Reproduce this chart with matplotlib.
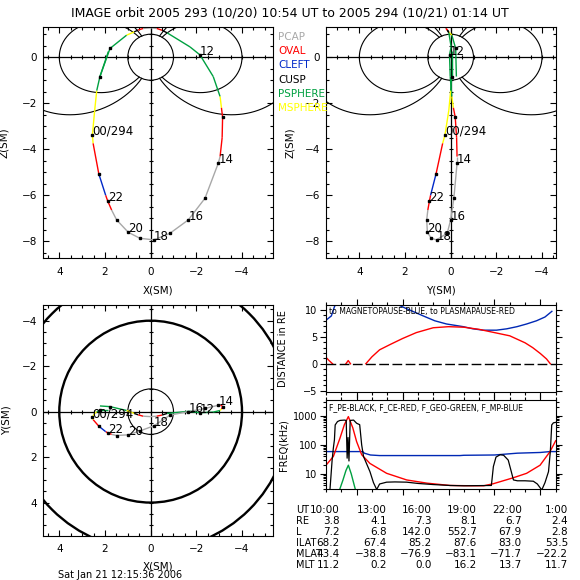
import numpy as np
import matplotlib
matplotlib.use("Agg")
import matplotlib.pyplot as plt
from matplotlib.patches import Circle
from matplotlib.ticker import MultipleLocator, LogLocator, NullFormatter, FuncFormatter

TITLE = "IMAGE orbit 2005 293 (10/20) 10:54 UT to 2005 294 (10/21) 01:14 UT"
STAMP = "Sat Jan 21 12:15:36 2006"

REGION_NAMES = ["PCAP", "OVAL", "CLEFT", "CUSP", "PSPHERE", "MSPHERE"]
REGION_COLORS = {"PCAP": "#a8a8a8", "OVAL": "#ff0000", "CLEFT": "#0028c8",
                 "CUSP": "#000000", "PSPHERE": "#00a040", "MSPHERE": "#ffff00"}

# orbit track in SM coordinates (RE); region = colour of segment leaving the point
ORBIT_X = [2.22, 1.78, 1.05, 0.72, 0.55, 0.33, 0.00, -0.27, -0.50, -0.72, -1.72, -2.16,
           -2.74, -3.04, -3.10, -3.15, -3.13, -3.04, -2.96, -2.38, -1.65, -0.85, -0.15,
           0.47, 0.98, 1.49, 1.71, 1.88, 1.97, 2.27, 2.52, 2.55, 2.45, 2.36, 2.22, 1.85]
ORBIT_Y = [-0.25, -0.22, -0.05, 0.08, 0.14, 0.20, 0.22, 0.20, 0.15, 0.08, -0.02, 0.05,
           0.02, -0.05, -0.12, -0.20, -0.26, -0.28, -0.28, -0.14, 0.00, 0.15, 0.62,
           0.85, 1.02, 1.05, 1.00, 0.93, 0.88, 0.64, 0.35, 0.25, 0.08, 0.00, -0.05, -0.05]
ORBIT_Z = [-0.84, 0.38, 0.96, 1.10, 1.18, 1.25, 1.28, 1.25, 1.17, 1.06, 0.45, 0.10,
           -0.84, -1.71, -2.20, -2.61, -3.50, -4.32, -4.61, -6.13, -7.07, -7.65, -7.94,
           -7.87, -7.61, -7.07, -6.64, -6.25, -6.00, -5.07, -3.74, -3.38, -2.30, -1.45, -0.84, 0.25]
ORBIT_REGION = ["PSPHERE", "PSPHERE", "MSPHERE", "CUSP", "OVAL", "PCAP", "PCAP", "OVAL",
                "CUSP", "PSPHERE", "PSPHERE", "PSPHERE", "PSPHERE", "MSPHERE", "OVAL", "OVAL",
                "OVAL", "PCAP", "PCAP", "PCAP", "PCAP", "PCAP", "PCAP", "PCAP", "PCAP", "PCAP",
                "OVAL", "OVAL", "CLEFT", "OVAL", "MSPHERE", "MSPHERE", "MSPHERE", "PSPHERE",
                "PSPHERE", "PSPHERE"]
ORBIT_MARK = ["", ".", "", "", "", "", "", "", "", "", "", "12",
              "", "", "", ".", "", "", "14", ".", "16", ".", "18",
              ".", "20", ".", "", "22", "", ".", "", "00/294", "", "", ".", ""]

L_SHELLS = [4.0, 6.5]
XY_CIRCLES = [1.0, 4.0, 6.1]
XY_CIRCLE_LW = [0.8, 1.7, 1.7]

# distance panel (hours of day 293, 25 = 01:00 on 294)
MP_T = [10.0, 10.35, 10.55, 10.8, 12.5, 14.5, 14.83, 15.3, 16.35, 17.1, 17.87, 18.97,
        19.6, 20.27, 21.13, 21.8, 22.47, 23.1, 23.75, 24.3, 24.75]
MP_D = [8.1, 8.9, 10.6, 12.0, 14.0, 12.0, 10.8, 10.2, 8.9, 8.0, 7.4, 6.9,
        6.5, 6.25, 6.25, 6.5, 6.9, 7.4, 8.0, 8.7, 9.75]
PP_T = [10.0, 10.2, 10.43, 10.5, 11.3, 11.45, 11.6, 11.7, 12.6, 13.0, 13.5, 14.2, 15.0,
        15.9, 17.0, 18.0, 19.0, 20.0, 21.0, 22.0, 23.0, 23.5, 24.0, 24.4, 24.65]
PP_D = [1.2, 0.6, 0.0, np.nan, 0.0, 0.6, 0.0, np.nan, 0.0, 1.3, 2.6, 3.6, 4.7,
        5.8, 6.7, 6.9, 6.8, 6.4, 5.8, 5.2, 3.9, 3.0, 1.9, 0.9, 0.0]

# frequency panel (kHz)
FPE_T = [10.15, 10.26, 10.4, 10.48, 10.55, 10.6, 10.75, 10.91, 11.2, 11.32, 11.38, 11.44,
         11.5, 11.58, 11.8, 12.0, 12.2, 12.33, 12.45, 12.87, 13.1, 13.31, 13.5, 13.96,
         14.5, 15.27, 16.0, 17.0, 18.1, 19.0, 20.8, 20.93, 21.1, 21.37, 21.6, 21.9, 22.1,
         22.24, 22.5, 23.0, 23.54, 23.8, 24.09, 24.3, 24.53, 24.65, 24.74, 24.85, 25.0]
FPE_F = [2.5, 2.9, 30, 78, 150, 490, 640, 700, 720, 700, 35, 180,
         28, 700, 720, 560, 500, 100, 40, 12, 5.0, 2.9, 4.5, 5.2,
         5.3, 5.2, 4.7, 4.3, 4.0, 3.9, 4.0, 18, 38, 46, 44, 30, 12,
         6.2, 5.8, 5.8, 5.6, 4.5, 2.8, 5.0, 12, 60, 490, 580, 600]
FCE_T = [10.0, 10.48, 10.91, 11.2, 11.46, 11.75, 12.0, 12.33, 12.87, 13.96, 15.27, 16.6,
         18.1, 19.5, 20.3, 20.93, 22.24, 23.1, 23.98, 24.63, 25.0]
FCE_F = [20, 40, 170, 500, 950, 390, 130, 46, 23, 10.5, 6.2, 4.8,
         4.0, 3.9, 3.9, 4.6, 7.4, 10.5, 20, 59, 140]
FGEO_T = [10.85, 11.1, 11.3, 11.46, 11.65, 11.8, 11.95]
FGEO_F = [2.5, 6, 13, 20, 10, 5, 2.5]
FMP_T = [10.0, 12.4, 12.5, 12.9, 13.5, 18.75, 19.0, 21.0, 22.5, 24.0, 24.63, 25.0]
FMP_F = [59, 59, 52, 45, 43, 43, 44, 45, 52, 55, 59, 59]

TABLE_ROWS = ["UT", "RE", "L", "ILAT", "MLAT", "MLT"]
TABLE_UT = ["10:00", "13:00", "16:00", "19:00", "22:00", "1:00"]
TABLE_RE = [3.8, 4.1, 7.3, 8.1, 6.7, 2.4]
TABLE_L = [7.2, 6.8, 142.0, 552.7, 67.9, 2.8]
TABLE_ILAT = [68.2, 67.4, 85.2, 87.6, 83.0, 53.5]
TABLE_MLAT = [43.4, -38.8, -76.9, -83.1, -71.7, -22.2]
TABLE_MLT = [11.2, 0.2, 0.0, 16.2, 13.7, 11.7]

W = H = 580.0
FS = 7.5


def px_box(left, top, right, bottom):
    return [left / W, 1 - bottom / H, (right - left) / W, (bottom - top) / H]


def style_orbit_axes(ax):
    for axis in (ax.xaxis, ax.yaxis):
        axis.set_major_locator(MultipleLocator(2))
        axis.set_minor_locator(MultipleLocator(0.5))
    ax.tick_params(which="both", direction="in", top=True, right=True, labelsize=FS)
    ax.tick_params(axis="x", pad=6)
    ax.tick_params(axis="y", pad=4.5)
    ax.tick_params(which="major", length=4.5, width=0.8)
    ax.tick_params(which="minor", length=2.2, width=0.8)
    ax.axhline(0, color="k", lw=0.9)
    ax.axvline(0, color="k", lw=0.9)
    xl = ax.get_xlim()
    yl = ax.get_ylim()
    xs = np.arange(np.ceil(min(xl) * 2) / 2, max(xl), 0.5)
    ys = np.arange(np.ceil(min(yl) * 2) / 2, max(yl), 0.5)
    ax.plot(xs, np.zeros_like(xs), "|", color="k", ms=3, mew=0.8)
    ax.plot(np.zeros_like(ys), ys, "_", color="k", ms=3, mew=0.8)


def draw_field_lines(ax):
    for L in L_SHELLS:
        lat_max = np.arccos(1 / np.sqrt(L))
        lat = np.linspace(-lat_max, lat_max, 400)
        r = L * np.cos(lat) ** 2
        for side in (1, -1):
            ax.plot(side * r * np.cos(lat), r * np.sin(lat), color="k", lw=0.8)


def draw_orbit(ax, h, v):
    for i in range(len(h) - 1):
        ax.plot(h[i:i + 2], v[i:i + 2], color=REGION_COLORS[ORBIT_REGION[i]], lw=1.0,
                solid_capstyle="butt")
    for i, mark in enumerate(ORBIT_MARK):
        if mark:
            ax.plot(h[i], v[i], "s", color="k", ms=1.8)
        if mark and mark != ".":
            ax.text(h[i], v[i], mark, fontsize=8.5, ha="left", va="baseline")


fig = plt.figure(figsize=(5.8, 5.8), dpi=100)

# X-Z
ax1 = fig.add_axes(px_box(43.3, 27.3, 273.3, 258.3))
ax1.set_xlim(4.7, -5.37)
ax1.set_ylim(-8.74, 1.3)
draw_field_lines(ax1)
ax1.add_patch(Circle((0, 0), 1, fill=False, color="k", lw=0.8))
style_orbit_axes(ax1)
draw_orbit(ax1, ORBIT_X, ORBIT_Z)
ax1.set_xlabel("X(SM)", fontsize=FS)
ax1.set_ylabel("Z(SM)", fontsize=FS)
ax1.xaxis.set_label_coords(0.5, -0.116)
ax1.yaxis.set_label_coords(-0.15, 0.5)

# Y-Z
ax2 = fig.add_axes(px_box(326, 27.3, 555.7, 258.3))
ax2.set_xlim(5.46, -4.6)
ax2.set_ylim(-8.74, 1.3)
draw_field_lines(ax2)
ax2.add_patch(Circle((0, 0), 1, fill=False, color="k", lw=0.8))
style_orbit_axes(ax2)
draw_orbit(ax2, ORBIT_Y, ORBIT_Z)
ax2.set_xlabel("Y(SM)", fontsize=FS)
ax2.set_ylabel("Z(SM)", fontsize=FS)
ax2.xaxis.set_label_coords(0.5, -0.116)
ax2.yaxis.set_label_coords(-0.135, 0.5)

# X-Y
ax3 = fig.add_axes(px_box(43.3, 305, 273.3, 536))
ax3.set_xlim(4.7, -5.37)
ax3.set_ylim(5.47, -4.69)
for rad, lw in zip(XY_CIRCLES, XY_CIRCLE_LW):
    ax3.add_patch(Circle((0, 0), rad, fill=False, color="k", lw=lw))
style_orbit_axes(ax3)
draw_orbit(ax3, ORBIT_X, ORBIT_Y)
ax3.set_xlabel("X(SM)", fontsize=FS)
ax3.set_ylabel("Y(SM)", fontsize=FS)
ax3.xaxis.set_label_coords(0.5, -0.11)
ax3.yaxis.set_label_coords(-0.14, 0.5)

# legend of regions
for k, name in enumerate(REGION_NAMES):
    fig.text(278 / W, 1 - (37 + 14.2 * k) / H, name, color=REGION_COLORS[name],
             fontsize=FS, ha="left", va="center")


def style_time_axes(ax):
    ax.set_xlim(10, 25)
    ax.xaxis.set_major_locator(MultipleLocator(3))
    ax.xaxis.set_minor_locator(MultipleLocator(1))
    ax.tick_params(which="both", direction="out", top=True, right=True, labelbottom=False,
                   labelsize=7, pad=2, width=0.8)
    ax.tick_params(which="major", length=4)
    ax.tick_params(which="minor", length=2)


# distances
ax4 = fig.add_axes(px_box(326, 305, 555.7, 392.3))
ax4.plot(MP_T, MP_D, color="#0028b4", lw=1.0)
ax4.plot(PP_T, PP_D, color="#ff0000", lw=1.0)
ax4.axhline(0, color="k", lw=1.0, dashes=(7, 2.5))
style_time_axes(ax4)
ax4.set_ylim(-5.3, 10.93)
ax4.yaxis.set_major_locator(MultipleLocator(5))
ax4.yaxis.set_minor_locator(MultipleLocator(1))
ax4.text(0.015, 0.93, "to MAGNETOPAUSE-BLUE, to PLASMAPAUSE-RED", transform=ax4.transAxes,
         fontsize=5.6, ha="left", va="center")
ax4.set_ylabel("DISTANCE in RE", fontsize=7)
ax4.yaxis.set_label_coords(-0.165, 0.5)

# frequencies
ax5 = fig.add_axes(px_box(326, 400, 555.7, 489.3))
ax5.set_yscale("log")
ax5.plot(FMP_T, FMP_F, color="#0028b4", lw=1.0)
ax5.plot(FCE_T, FCE_F, color="#ff0000", lw=1.0)
ax5.plot(FGEO_T, FGEO_F, color="#00a040", lw=1.0)
ax5.plot(FPE_T, FPE_F, color="k", lw=0.9)
style_time_axes(ax5)
ax5.set_ylim(2.95, 3550)
ax5.yaxis.set_major_locator(LogLocator(base=10, numticks=10))
ax5.yaxis.set_minor_locator(LogLocator(base=10, subs=np.arange(2, 10), numticks=10))
ax5.yaxis.set_major_formatter(FuncFormatter(lambda v, p: f"{v:g}"))
ax5.yaxis.set_minor_formatter(NullFormatter())
ax5.text(0.015, 0.92, "F_PE-BLACK, F_CE-RED, F_GEO-GREEN, F_MP-BLUE", transform=ax5.transAxes,
         fontsize=5.6, ha="left", va="center")
ax5.set_ylabel("FREQ(kHz)", fontsize=7)
ax5.yaxis.set_label_coords(-0.165, 0.5)


# table of positions below
def fmt(v):
    s = f"{v:.1f}"
    return s.replace("-", "\u2212")


table_cols = [340, 386.7, 431.7, 476.7, 521.7, 568.3]
table_vals = [TABLE_UT, [fmt(v) for v in TABLE_RE], [fmt(v) for v in TABLE_L],
              [fmt(v) for v in TABLE_ILAT], [fmt(v) for v in TABLE_MLAT], [fmt(v) for v in TABLE_MLT]]
for r, (row, vals) in enumerate(zip(TABLE_ROWS, table_vals)):
    y = 1 - (510 + 11 * r) / H
    fig.text(296 / W, y, row, fontsize=7, ha="left", va="center")
    for cx, val in zip(table_cols, vals):
        fig.text(cx / W, y, val, fontsize=FS, ha="right", va="center")

fig.text(0.5, 1 - 12.7 / H, TITLE, fontsize=9, ha="center", va="center")
fig.text(58 / W, 1 - 575.5 / H, STAMP, fontsize=7, ha="left", va="center")

fig.savefig("out.png", dpi=100)
